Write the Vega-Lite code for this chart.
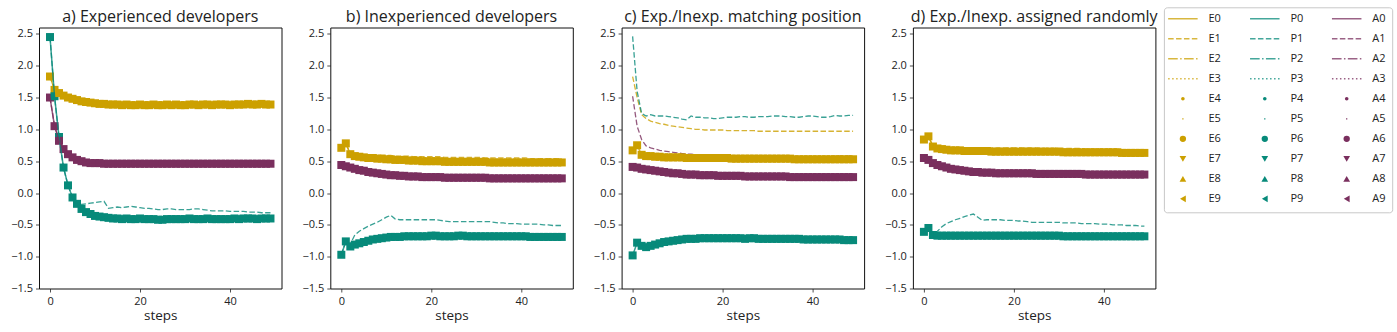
{
"$schema": "https://vega.github.io/schema/vega-lite/v6.json",
"autosize": {"type": "pad"},
"padding": {"left": 10, "top": 6.5, "right": 2, "bottom": 2},
"config": {
  "font": "Open Sans",
  "view": {"stroke": "#111", "strokeWidth": 1},
  "axis": {"grid": false, "domain": false, "labelFont": "Open Sans", "labelFontSize": 11, "labelColor": "#222", "tickColor": "#222", "tickSize": 3.5, "tickWidth": 0.8, "labelPadding": 3, "titleFont": "Open Sans", "titleFontSize": 13.5, "titleFontWeight": "normal", "titleColor": "#222", "titlePadding": 2, "labelFlush": false, "labelOverlap": false},
  "title": {"font": "Open Sans", "fontSize": 16, "fontWeight": "normal", "color": "#222", "offset": 2.6, "anchor": "middle"}
},
"datasets": {
"series": [
{"p":"a","s":0,"E":1.83,"Ed":1.83,"P":2.45,"Pd":2.45,"A":1.50,"Ad":1.50},
{"p":"a","s":1,"E":1.62,"Ed":1.63,"P":1.52,"Pd":1.52,"A":1.05,"Ad":1.06},
{"p":"a","s":2,"E":1.57,"Ed":1.58,"P":0.88,"Pd":0.88,"A":0.82,"Ad":0.83},
{"p":"a","s":3,"E":1.53,"Ed":1.54,"P":0.40,"Pd":0.40,"A":0.69,"Ad":0.70},
{"p":"a","s":4,"E":1.50,"Ed":1.51,"P":0.12,"Pd":0.12,"A":0.61,"Ad":0.62},
{"p":"a","s":5,"E":1.48,"Ed":1.49,"P":-0.07,"Pd":-0.07,"A":0.56,"Ad":0.57},
{"p":"a","s":6,"E":1.46,"Ed":1.47,"P":-0.17,"Pd":-0.17,"A":0.52,"Ad":0.53},
{"p":"a","s":7,"E":1.44,"Ed":1.46,"P":-0.25,"Pd":-0.18,"A":0.50,"Ad":0.51},
{"p":"a","s":8,"E":1.43,"Ed":1.45,"P":-0.30,"Pd":-0.17,"A":0.48,"Ad":0.49},
{"p":"a","s":9,"E":1.42,"Ed":1.44,"P":-0.33,"Pd":-0.16,"A":0.47,"Ad":0.48},
{"p":"a","s":10,"E":1.41,"Ed":1.43,"P":-0.36,"Pd":-0.15,"A":0.47,"Ad":0.48},
{"p":"a","s":11,"E":1.40,"Ed":1.42,"P":-0.37,"Pd":-0.14,"A":0.47,"Ad":0.47},
{"p":"a","s":12,"E":1.40,"Ed":1.41,"P":-0.38,"Pd":-0.13,"A":0.46,"Ad":0.47},
{"p":"a","s":13,"E":1.39,"Ed":1.41,"P":-0.39,"Pd":-0.24,"A":0.46,"Ad":0.47},
{"p":"a","s":14,"E":1.39,"Ed":1.40,"P":-0.40,"Pd":-0.23,"A":0.46,"Ad":0.47},
{"p":"a","s":15,"E":1.39,"Ed":1.40,"P":-0.40,"Pd":-0.22,"A":0.46,"Ad":0.47},
{"p":"a","s":16,"E":1.38,"Ed":1.40,"P":-0.41,"Pd":-0.23,"A":0.46,"Ad":0.47},
{"p":"a","s":17,"E":1.39,"Ed":1.40,"P":-0.40,"Pd":-0.22,"A":0.46,"Ad":0.47},
{"p":"a","s":18,"E":1.38,"Ed":1.39,"P":-0.41,"Pd":-0.21,"A":0.46,"Ad":0.47},
{"p":"a","s":19,"E":1.38,"Ed":1.39,"P":-0.41,"Pd":-0.22,"A":0.46,"Ad":0.47},
{"p":"a","s":20,"E":1.39,"Ed":1.40,"P":-0.40,"Pd":-0.23,"A":0.46,"Ad":0.47},
{"p":"a","s":21,"E":1.38,"Ed":1.39,"P":-0.41,"Pd":-0.24,"A":0.46,"Ad":0.47},
{"p":"a","s":22,"E":1.38,"Ed":1.39,"P":-0.41,"Pd":-0.24,"A":0.46,"Ad":0.47},
{"p":"a","s":23,"E":1.39,"Ed":1.40,"P":-0.41,"Pd":-0.25,"A":0.46,"Ad":0.47},
{"p":"a","s":24,"E":1.38,"Ed":1.39,"P":-0.42,"Pd":-0.26,"A":0.46,"Ad":0.47},
{"p":"a","s":25,"E":1.38,"Ed":1.39,"P":-0.42,"Pd":-0.26,"A":0.46,"Ad":0.47},
{"p":"a","s":26,"E":1.39,"Ed":1.40,"P":-0.41,"Pd":-0.25,"A":0.46,"Ad":0.47},
{"p":"a","s":27,"E":1.38,"Ed":1.39,"P":-0.41,"Pd":-0.25,"A":0.46,"Ad":0.47},
{"p":"a","s":28,"E":1.39,"Ed":1.39,"P":-0.41,"Pd":-0.26,"A":0.46,"Ad":0.47},
{"p":"a","s":29,"E":1.38,"Ed":1.39,"P":-0.41,"Pd":-0.26,"A":0.46,"Ad":0.47},
{"p":"a","s":30,"E":1.38,"Ed":1.39,"P":-0.41,"Pd":-0.26,"A":0.46,"Ad":0.47},
{"p":"a","s":31,"E":1.39,"Ed":1.40,"P":-0.40,"Pd":-0.26,"A":0.46,"Ad":0.47},
{"p":"a","s":32,"E":1.39,"Ed":1.39,"P":-0.41,"Pd":-0.25,"A":0.46,"Ad":0.47},
{"p":"a","s":33,"E":1.38,"Ed":1.39,"P":-0.41,"Pd":-0.25,"A":0.46,"Ad":0.47},
{"p":"a","s":34,"E":1.39,"Ed":1.40,"P":-0.41,"Pd":-0.26,"A":0.46,"Ad":0.47},
{"p":"a","s":35,"E":1.39,"Ed":1.40,"P":-0.40,"Pd":-0.27,"A":0.46,"Ad":0.47},
{"p":"a","s":36,"E":1.38,"Ed":1.39,"P":-0.41,"Pd":-0.28,"A":0.46,"Ad":0.47},
{"p":"a","s":37,"E":1.39,"Ed":1.40,"P":-0.41,"Pd":-0.28,"A":0.46,"Ad":0.47},
{"p":"a","s":38,"E":1.39,"Ed":1.40,"P":-0.41,"Pd":-0.28,"A":0.46,"Ad":0.47},
{"p":"a","s":39,"E":1.39,"Ed":1.40,"P":-0.41,"Pd":-0.28,"A":0.46,"Ad":0.47},
{"p":"a","s":40,"E":1.38,"Ed":1.39,"P":-0.41,"Pd":-0.29,"A":0.46,"Ad":0.47},
{"p":"a","s":41,"E":1.39,"Ed":1.40,"P":-0.40,"Pd":-0.29,"A":0.46,"Ad":0.47},
{"p":"a","s":42,"E":1.39,"Ed":1.40,"P":-0.41,"Pd":-0.29,"A":0.46,"Ad":0.47},
{"p":"a","s":43,"E":1.39,"Ed":1.40,"P":-0.40,"Pd":-0.29,"A":0.46,"Ad":0.47},
{"p":"a","s":44,"E":1.40,"Ed":1.40,"P":-0.40,"Pd":-0.30,"A":0.46,"Ad":0.47},
{"p":"a","s":45,"E":1.39,"Ed":1.40,"P":-0.40,"Pd":-0.30,"A":0.46,"Ad":0.47},
{"p":"a","s":46,"E":1.39,"Ed":1.40,"P":-0.41,"Pd":-0.30,"A":0.46,"Ad":0.47},
{"p":"a","s":47,"E":1.40,"Ed":1.40,"P":-0.40,"Pd":-0.31,"A":0.46,"Ad":0.47},
{"p":"a","s":48,"E":1.39,"Ed":1.40,"P":-0.40,"Pd":-0.31,"A":0.46,"Ad":0.47},
{"p":"a","s":49,"E":1.39,"Ed":1.40,"P":-0.40,"Pd":-0.31,"A":0.46,"Ad":0.47},
{"p":"b","s":0,"E":0.71,"Ed":0.71,"P":-0.97,"Pd":-0.97,"A":0.44,"Ad":0.44},
{"p":"b","s":1,"E":0.78,"Ed":0.78,"P":-0.76,"Pd":-0.76,"A":0.42,"Ad":0.42},
{"p":"b","s":2,"E":0.61,"Ed":0.62,"P":-0.84,"Pd":-0.80,"A":0.40,"Ad":0.41},
{"p":"b","s":3,"E":0.58,"Ed":0.59,"P":-0.81,"Pd":-0.66,"A":0.38,"Ad":0.39},
{"p":"b","s":4,"E":0.57,"Ed":0.58,"P":-0.79,"Pd":-0.60,"A":0.36,"Ad":0.38},
{"p":"b","s":5,"E":0.56,"Ed":0.58,"P":-0.77,"Pd":-0.56,"A":0.35,"Ad":0.36},
{"p":"b","s":6,"E":0.55,"Ed":0.58,"P":-0.75,"Pd":-0.52,"A":0.33,"Ad":0.35},
{"p":"b","s":7,"E":0.55,"Ed":0.59,"P":-0.73,"Pd":-0.49,"A":0.32,"Ad":0.34},
{"p":"b","s":8,"E":0.54,"Ed":0.59,"P":-0.72,"Pd":-0.46,"A":0.31,"Ad":0.33},
{"p":"b","s":9,"E":0.54,"Ed":0.59,"P":-0.71,"Pd":-0.42,"A":0.30,"Ad":0.32},
{"p":"b","s":10,"E":0.53,"Ed":0.59,"P":-0.70,"Pd":-0.38,"A":0.29,"Ad":0.32},
{"p":"b","s":11,"E":0.53,"Ed":0.59,"P":-0.69,"Pd":-0.35,"A":0.28,"Ad":0.32},
{"p":"b","s":12,"E":0.52,"Ed":0.58,"P":-0.69,"Pd":-0.41,"A":0.28,"Ad":0.31},
{"p":"b","s":13,"E":0.52,"Ed":0.58,"P":-0.69,"Pd":-0.42,"A":0.27,"Ad":0.30},
{"p":"b","s":14,"E":0.52,"Ed":0.58,"P":-0.68,"Pd":-0.42,"A":0.27,"Ad":0.30},
{"p":"b","s":15,"E":0.51,"Ed":0.58,"P":-0.68,"Pd":-0.42,"A":0.26,"Ad":0.29},
{"p":"b","s":16,"E":0.51,"Ed":0.57,"P":-0.68,"Pd":-0.42,"A":0.26,"Ad":0.29},
{"p":"b","s":17,"E":0.51,"Ed":0.57,"P":-0.68,"Pd":-0.42,"A":0.26,"Ad":0.29},
{"p":"b","s":18,"E":0.50,"Ed":0.57,"P":-0.68,"Pd":-0.42,"A":0.25,"Ad":0.28},
{"p":"b","s":19,"E":0.50,"Ed":0.57,"P":-0.68,"Pd":-0.42,"A":0.25,"Ad":0.28},
{"p":"b","s":20,"E":0.50,"Ed":0.57,"P":-0.67,"Pd":-0.42,"A":0.25,"Ad":0.28},
{"p":"b","s":21,"E":0.50,"Ed":0.57,"P":-0.67,"Pd":-0.42,"A":0.25,"Ad":0.28},
{"p":"b","s":22,"E":0.50,"Ed":0.57,"P":-0.68,"Pd":-0.43,"A":0.25,"Ad":0.28},
{"p":"b","s":23,"E":0.49,"Ed":0.56,"P":-0.68,"Pd":-0.44,"A":0.24,"Ad":0.28},
{"p":"b","s":24,"E":0.49,"Ed":0.56,"P":-0.68,"Pd":-0.45,"A":0.24,"Ad":0.27},
{"p":"b","s":25,"E":0.49,"Ed":0.56,"P":-0.68,"Pd":-0.45,"A":0.24,"Ad":0.27},
{"p":"b","s":26,"E":0.49,"Ed":0.56,"P":-0.67,"Pd":-0.45,"A":0.24,"Ad":0.27},
{"p":"b","s":27,"E":0.49,"Ed":0.56,"P":-0.67,"Pd":-0.45,"A":0.24,"Ad":0.27},
{"p":"b","s":28,"E":0.49,"Ed":0.56,"P":-0.68,"Pd":-0.45,"A":0.24,"Ad":0.27},
{"p":"b","s":29,"E":0.49,"Ed":0.56,"P":-0.68,"Pd":-0.45,"A":0.24,"Ad":0.27},
{"p":"b","s":30,"E":0.49,"Ed":0.56,"P":-0.68,"Pd":-0.45,"A":0.24,"Ad":0.27},
{"p":"b","s":31,"E":0.49,"Ed":0.56,"P":-0.68,"Pd":-0.45,"A":0.24,"Ad":0.27},
{"p":"b","s":32,"E":0.49,"Ed":0.55,"P":-0.68,"Pd":-0.45,"A":0.24,"Ad":0.27},
{"p":"b","s":33,"E":0.48,"Ed":0.55,"P":-0.68,"Pd":-0.45,"A":0.23,"Ad":0.27},
{"p":"b","s":34,"E":0.48,"Ed":0.55,"P":-0.68,"Pd":-0.46,"A":0.23,"Ad":0.27},
{"p":"b","s":35,"E":0.48,"Ed":0.55,"P":-0.68,"Pd":-0.47,"A":0.23,"Ad":0.26},
{"p":"b","s":36,"E":0.48,"Ed":0.55,"P":-0.68,"Pd":-0.47,"A":0.23,"Ad":0.26},
{"p":"b","s":37,"E":0.48,"Ed":0.55,"P":-0.68,"Pd":-0.48,"A":0.23,"Ad":0.26},
{"p":"b","s":38,"E":0.48,"Ed":0.55,"P":-0.68,"Pd":-0.48,"A":0.23,"Ad":0.26},
{"p":"b","s":39,"E":0.48,"Ed":0.55,"P":-0.68,"Pd":-0.48,"A":0.23,"Ad":0.26},
{"p":"b","s":40,"E":0.48,"Ed":0.55,"P":-0.68,"Pd":-0.49,"A":0.23,"Ad":0.26},
{"p":"b","s":41,"E":0.48,"Ed":0.55,"P":-0.68,"Pd":-0.49,"A":0.23,"Ad":0.26},
{"p":"b","s":42,"E":0.48,"Ed":0.54,"P":-0.69,"Pd":-0.49,"A":0.23,"Ad":0.26},
{"p":"b","s":43,"E":0.48,"Ed":0.54,"P":-0.69,"Pd":-0.49,"A":0.23,"Ad":0.26},
{"p":"b","s":44,"E":0.48,"Ed":0.54,"P":-0.69,"Pd":-0.49,"A":0.23,"Ad":0.26},
{"p":"b","s":45,"E":0.48,"Ed":0.54,"P":-0.69,"Pd":-0.50,"A":0.23,"Ad":0.26},
{"p":"b","s":46,"E":0.48,"Ed":0.54,"P":-0.69,"Pd":-0.50,"A":0.23,"Ad":0.26},
{"p":"b","s":47,"E":0.48,"Ed":0.54,"P":-0.69,"Pd":-0.51,"A":0.23,"Ad":0.26},
{"p":"b","s":48,"E":0.48,"Ed":0.54,"P":-0.69,"Pd":-0.51,"A":0.23,"Ad":0.26},
{"p":"b","s":49,"E":0.48,"Ed":0.54,"P":-0.69,"Pd":-0.51,"A":0.23,"Ad":0.26},
{"p":"c","s":0,"E":0.67,"Ed":1.83,"P":-0.98,"Pd":2.46,"A":0.41,"Ad":1.52},
{"p":"c","s":1,"E":0.75,"Ed":1.50,"P":-0.78,"Pd":1.60,"A":0.40,"Ad":1.05},
{"p":"c","s":2,"E":0.60,"Ed":1.23,"P":-0.83,"Pd":1.25,"A":0.38,"Ad":0.84},
{"p":"c","s":3,"E":0.58,"Ed":1.17,"P":-0.85,"Pd":1.21,"A":0.37,"Ad":0.74},
{"p":"c","s":4,"E":0.58,"Ed":1.13,"P":-0.83,"Pd":1.23,"A":0.36,"Ad":0.71},
{"p":"c","s":5,"E":0.57,"Ed":1.11,"P":-0.81,"Pd":1.21,"A":0.35,"Ad":0.69},
{"p":"c","s":6,"E":0.57,"Ed":1.09,"P":-0.79,"Pd":1.21,"A":0.34,"Ad":0.67},
{"p":"c","s":7,"E":0.56,"Ed":1.08,"P":-0.77,"Pd":1.21,"A":0.33,"Ad":0.66},
{"p":"c","s":8,"E":0.56,"Ed":1.06,"P":-0.76,"Pd":1.20,"A":0.32,"Ad":0.65},
{"p":"c","s":9,"E":0.56,"Ed":1.05,"P":-0.75,"Pd":1.19,"A":0.31,"Ad":0.64},
{"p":"c","s":10,"E":0.56,"Ed":1.04,"P":-0.74,"Pd":1.18,"A":0.31,"Ad":0.63},
{"p":"c","s":11,"E":0.56,"Ed":1.03,"P":-0.73,"Pd":1.16,"A":0.30,"Ad":0.62},
{"p":"c","s":12,"E":0.55,"Ed":1.02,"P":-0.72,"Pd":1.15,"A":0.29,"Ad":0.61},
{"p":"c","s":13,"E":0.55,"Ed":1.01,"P":-0.72,"Pd":1.21,"A":0.29,"Ad":0.61},
{"p":"c","s":14,"E":0.55,"Ed":1.00,"P":-0.72,"Pd":1.19,"A":0.29,"Ad":0.60},
{"p":"c","s":15,"E":0.55,"Ed":1.00,"P":-0.71,"Pd":1.19,"A":0.28,"Ad":0.60},
{"p":"c","s":16,"E":0.55,"Ed":0.99,"P":-0.71,"Pd":1.18,"A":0.28,"Ad":0.59},
{"p":"c","s":17,"E":0.55,"Ed":0.99,"P":-0.71,"Pd":1.18,"A":0.28,"Ad":0.59},
{"p":"c","s":18,"E":0.55,"Ed":0.99,"P":-0.71,"Pd":1.17,"A":0.28,"Ad":0.59},
{"p":"c","s":19,"E":0.55,"Ed":0.99,"P":-0.71,"Pd":1.17,"A":0.27,"Ad":0.58},
{"p":"c","s":20,"E":0.55,"Ed":0.99,"P":-0.71,"Pd":1.18,"A":0.27,"Ad":0.58},
{"p":"c","s":21,"E":0.55,"Ed":0.98,"P":-0.71,"Pd":1.19,"A":0.27,"Ad":0.58},
{"p":"c","s":22,"E":0.54,"Ed":0.98,"P":-0.71,"Pd":1.19,"A":0.27,"Ad":0.58},
{"p":"c","s":23,"E":0.54,"Ed":0.98,"P":-0.71,"Pd":1.19,"A":0.27,"Ad":0.58},
{"p":"c","s":24,"E":0.54,"Ed":0.98,"P":-0.71,"Pd":1.20,"A":0.27,"Ad":0.58},
{"p":"c","s":25,"E":0.54,"Ed":0.98,"P":-0.72,"Pd":1.20,"A":0.26,"Ad":0.58},
{"p":"c","s":26,"E":0.54,"Ed":0.98,"P":-0.71,"Pd":1.19,"A":0.26,"Ad":0.58},
{"p":"c","s":27,"E":0.54,"Ed":0.98,"P":-0.71,"Pd":1.19,"A":0.26,"Ad":0.58},
{"p":"c","s":28,"E":0.54,"Ed":0.97,"P":-0.72,"Pd":1.20,"A":0.26,"Ad":0.58},
{"p":"c","s":29,"E":0.54,"Ed":0.97,"P":-0.72,"Pd":1.20,"A":0.26,"Ad":0.58},
{"p":"c","s":30,"E":0.54,"Ed":0.97,"P":-0.72,"Pd":1.20,"A":0.26,"Ad":0.57},
{"p":"c","s":31,"E":0.54,"Ed":0.97,"P":-0.72,"Pd":1.21,"A":0.26,"Ad":0.57},
{"p":"c","s":32,"E":0.54,"Ed":0.97,"P":-0.72,"Pd":1.21,"A":0.26,"Ad":0.57},
{"p":"c","s":33,"E":0.54,"Ed":0.97,"P":-0.72,"Pd":1.21,"A":0.26,"Ad":0.57},
{"p":"c","s":34,"E":0.54,"Ed":0.97,"P":-0.72,"Pd":1.20,"A":0.26,"Ad":0.57},
{"p":"c","s":35,"E":0.54,"Ed":0.97,"P":-0.72,"Pd":1.20,"A":0.25,"Ad":0.57},
{"p":"c","s":36,"E":0.53,"Ed":0.97,"P":-0.72,"Pd":1.19,"A":0.25,"Ad":0.57},
{"p":"c","s":37,"E":0.53,"Ed":0.97,"P":-0.72,"Pd":1.19,"A":0.25,"Ad":0.57},
{"p":"c","s":38,"E":0.53,"Ed":0.97,"P":-0.73,"Pd":1.20,"A":0.25,"Ad":0.57},
{"p":"c","s":39,"E":0.53,"Ed":0.97,"P":-0.73,"Pd":1.21,"A":0.25,"Ad":0.57},
{"p":"c","s":40,"E":0.53,"Ed":0.97,"P":-0.73,"Pd":1.21,"A":0.25,"Ad":0.57},
{"p":"c","s":41,"E":0.53,"Ed":0.97,"P":-0.73,"Pd":1.20,"A":0.25,"Ad":0.57},
{"p":"c","s":42,"E":0.53,"Ed":0.97,"P":-0.73,"Pd":1.19,"A":0.25,"Ad":0.57},
{"p":"c","s":43,"E":0.53,"Ed":0.97,"P":-0.73,"Pd":1.19,"A":0.25,"Ad":0.57},
{"p":"c","s":44,"E":0.53,"Ed":0.97,"P":-0.73,"Pd":1.20,"A":0.25,"Ad":0.57},
{"p":"c","s":45,"E":0.53,"Ed":0.97,"P":-0.73,"Pd":1.22,"A":0.25,"Ad":0.58},
{"p":"c","s":46,"E":0.53,"Ed":0.97,"P":-0.73,"Pd":1.21,"A":0.25,"Ad":0.58},
{"p":"c","s":47,"E":0.53,"Ed":0.97,"P":-0.74,"Pd":1.21,"A":0.25,"Ad":0.58},
{"p":"c","s":48,"E":0.53,"Ed":0.97,"P":-0.74,"Pd":1.22,"A":0.25,"Ad":0.58},
{"p":"c","s":49,"E":0.53,"Ed":0.97,"P":-0.74,"Pd":1.22,"A":0.25,"Ad":0.58},
{"p":"d","s":0,"E":0.84,"Ed":0.84,"P":-0.61,"Pd":-0.61,"A":0.55,"Ad":0.55},
{"p":"d","s":1,"E":0.89,"Ed":0.89,"P":-0.55,"Pd":-0.55,"A":0.52,"Ad":0.52},
{"p":"d","s":2,"E":0.73,"Ed":0.74,"P":-0.66,"Pd":-0.64,"A":0.47,"Ad":0.48},
{"p":"d","s":3,"E":0.70,"Ed":0.71,"P":-0.67,"Pd":-0.60,"A":0.44,"Ad":0.45},
{"p":"d","s":4,"E":0.69,"Ed":0.70,"P":-0.67,"Pd":-0.53,"A":0.42,"Ad":0.43},
{"p":"d","s":5,"E":0.68,"Ed":0.69,"P":-0.67,"Pd":-0.48,"A":0.40,"Ad":0.41},
{"p":"d","s":6,"E":0.67,"Ed":0.69,"P":-0.67,"Pd":-0.45,"A":0.38,"Ad":0.39},
{"p":"d","s":7,"E":0.67,"Ed":0.69,"P":-0.67,"Pd":-0.42,"A":0.37,"Ad":0.38},
{"p":"d","s":8,"E":0.67,"Ed":0.69,"P":-0.67,"Pd":-0.40,"A":0.36,"Ad":0.37},
{"p":"d","s":9,"E":0.66,"Ed":0.69,"P":-0.67,"Pd":-0.37,"A":0.35,"Ad":0.36},
{"p":"d","s":10,"E":0.66,"Ed":0.70,"P":-0.67,"Pd":-0.35,"A":0.34,"Ad":0.35},
{"p":"d","s":11,"E":0.66,"Ed":0.70,"P":-0.67,"Pd":-0.33,"A":0.33,"Ad":0.34},
{"p":"d","s":12,"E":0.66,"Ed":0.70,"P":-0.67,"Pd":-0.38,"A":0.33,"Ad":0.34},
{"p":"d","s":13,"E":0.66,"Ed":0.70,"P":-0.67,"Pd":-0.43,"A":0.32,"Ad":0.33},
{"p":"d","s":14,"E":0.66,"Ed":0.71,"P":-0.67,"Pd":-0.42,"A":0.32,"Ad":0.33},
{"p":"d","s":15,"E":0.65,"Ed":0.71,"P":-0.67,"Pd":-0.42,"A":0.32,"Ad":0.33},
{"p":"d","s":16,"E":0.65,"Ed":0.71,"P":-0.67,"Pd":-0.42,"A":0.31,"Ad":0.32},
{"p":"d","s":17,"E":0.65,"Ed":0.71,"P":-0.67,"Pd":-0.42,"A":0.31,"Ad":0.32},
{"p":"d","s":18,"E":0.65,"Ed":0.71,"P":-0.67,"Pd":-0.43,"A":0.31,"Ad":0.32},
{"p":"d","s":19,"E":0.65,"Ed":0.71,"P":-0.67,"Pd":-0.43,"A":0.31,"Ad":0.32},
{"p":"d","s":20,"E":0.65,"Ed":0.71,"P":-0.67,"Pd":-0.43,"A":0.31,"Ad":0.32},
{"p":"d","s":21,"E":0.65,"Ed":0.71,"P":-0.67,"Pd":-0.44,"A":0.31,"Ad":0.32},
{"p":"d","s":22,"E":0.65,"Ed":0.71,"P":-0.67,"Pd":-0.44,"A":0.31,"Ad":0.32},
{"p":"d","s":23,"E":0.65,"Ed":0.71,"P":-0.67,"Pd":-0.45,"A":0.31,"Ad":0.32},
{"p":"d","s":24,"E":0.65,"Ed":0.71,"P":-0.67,"Pd":-0.46,"A":0.31,"Ad":0.32},
{"p":"d","s":25,"E":0.65,"Ed":0.71,"P":-0.67,"Pd":-0.46,"A":0.30,"Ad":0.31},
{"p":"d","s":26,"E":0.65,"Ed":0.70,"P":-0.67,"Pd":-0.46,"A":0.30,"Ad":0.31},
{"p":"d","s":27,"E":0.65,"Ed":0.70,"P":-0.67,"Pd":-0.46,"A":0.30,"Ad":0.31},
{"p":"d","s":28,"E":0.65,"Ed":0.70,"P":-0.67,"Pd":-0.46,"A":0.30,"Ad":0.31},
{"p":"d","s":29,"E":0.65,"Ed":0.70,"P":-0.67,"Pd":-0.46,"A":0.30,"Ad":0.31},
{"p":"d","s":30,"E":0.65,"Ed":0.70,"P":-0.67,"Pd":-0.46,"A":0.30,"Ad":0.31},
{"p":"d","s":31,"E":0.64,"Ed":0.70,"P":-0.68,"Pd":-0.47,"A":0.30,"Ad":0.31},
{"p":"d","s":32,"E":0.64,"Ed":0.70,"P":-0.68,"Pd":-0.47,"A":0.30,"Ad":0.31},
{"p":"d","s":33,"E":0.64,"Ed":0.70,"P":-0.68,"Pd":-0.47,"A":0.30,"Ad":0.31},
{"p":"d","s":34,"E":0.64,"Ed":0.70,"P":-0.68,"Pd":-0.47,"A":0.30,"Ad":0.31},
{"p":"d","s":35,"E":0.64,"Ed":0.70,"P":-0.68,"Pd":-0.48,"A":0.30,"Ad":0.31},
{"p":"d","s":36,"E":0.64,"Ed":0.69,"P":-0.68,"Pd":-0.48,"A":0.29,"Ad":0.30},
{"p":"d","s":37,"E":0.64,"Ed":0.69,"P":-0.68,"Pd":-0.48,"A":0.29,"Ad":0.30},
{"p":"d","s":38,"E":0.64,"Ed":0.69,"P":-0.68,"Pd":-0.48,"A":0.29,"Ad":0.30},
{"p":"d","s":39,"E":0.64,"Ed":0.69,"P":-0.68,"Pd":-0.49,"A":0.29,"Ad":0.30},
{"p":"d","s":40,"E":0.64,"Ed":0.69,"P":-0.68,"Pd":-0.49,"A":0.29,"Ad":0.30},
{"p":"d","s":41,"E":0.64,"Ed":0.69,"P":-0.68,"Pd":-0.49,"A":0.29,"Ad":0.30},
{"p":"d","s":42,"E":0.64,"Ed":0.69,"P":-0.68,"Pd":-0.50,"A":0.29,"Ad":0.30},
{"p":"d","s":43,"E":0.64,"Ed":0.69,"P":-0.68,"Pd":-0.50,"A":0.29,"Ad":0.30},
{"p":"d","s":44,"E":0.63,"Ed":0.68,"P":-0.68,"Pd":-0.50,"A":0.29,"Ad":0.30},
{"p":"d","s":45,"E":0.63,"Ed":0.68,"P":-0.68,"Pd":-0.51,"A":0.29,"Ad":0.30},
{"p":"d","s":46,"E":0.63,"Ed":0.68,"P":-0.68,"Pd":-0.51,"A":0.29,"Ad":0.30},
{"p":"d","s":47,"E":0.63,"Ed":0.68,"P":-0.68,"Pd":-0.51,"A":0.29,"Ad":0.30},
{"p":"d","s":48,"E":0.63,"Ed":0.68,"P":-0.68,"Pd":-0.52,"A":0.29,"Ad":0.30},
{"p":"d","s":49,"E":0.63,"Ed":0.68,"P":-0.68,"Pd":-0.52,"A":0.29,"Ad":0.30}
],
"legend": [
{"g":"E","i":0,"lab":"E0"},{"g":"E","i":1,"lab":"E1"},{"g":"E","i":2,"lab":"E2"},{"g":"E","i":3,"lab":"E3"},{"g":"E","i":4,"lab":"E4"},{"g":"E","i":5,"lab":"E5"},{"g":"E","i":6,"lab":"E6"},{"g":"E","i":7,"lab":"E7"},{"g":"E","i":8,"lab":"E8"},{"g":"E","i":9,"lab":"E9"},
{"g":"P","i":0,"lab":"P0"},{"g":"P","i":1,"lab":"P1"},{"g":"P","i":2,"lab":"P2"},{"g":"P","i":3,"lab":"P3"},{"g":"P","i":4,"lab":"P4"},{"g":"P","i":5,"lab":"P5"},{"g":"P","i":6,"lab":"P6"},{"g":"P","i":7,"lab":"P7"},{"g":"P","i":8,"lab":"P8"},{"g":"P","i":9,"lab":"P9"},
{"g":"A","i":0,"lab":"A0"},{"g":"A","i":1,"lab":"A1"},{"g":"A","i":2,"lab":"A2"},{"g":"A","i":3,"lab":"A3"},{"g":"A","i":4,"lab":"A4"},{"g":"A","i":5,"lab":"A5"},{"g":"A","i":6,"lab":"A6"},{"g":"A","i":7,"lab":"A7"},{"g":"A","i":8,"lab":"A8"},{"g":"A","i":9,"lab":"A9"}
]
},
"spacing": 48.3,
"bounds": "flush",
"hconcat": [
{
"title": "a) Experienced developers",
"width": 242.5, "height": 261,
"data": {"name": "series"},
"transform": [{"filter": "datum.p === 'a'"}],
"encoding": {
  "x": {"field": "s", "type": "quantitative", "scale": {"domain": [-2.45, 51.45], "nice": false, "zero": false}, "axis": {"values": [0, 20, 40], "format": "d", "title": "steps"}},
  "y": {"field": "v", "type": "quantitative", "scale": {"domain": [-1.5, 2.6], "nice": false, "zero": false}, "axis": {"values": [-1.5, -1, -0.5, 0, 0.5, 1, 1.5, 2, 2.5], "format": ".1f", "title": null}},
  "color": {"field": "k", "type": "nominal", "scale": {"domain": ["E", "P", "A", "Ed", "Pd", "Ad"], "range": ["#CCA000", "#078A7A", "#7A2F5E", "#CCA000", "#078A7A", "#7A2F5E"]}, "legend": null}
},
"layer": [
  {"transform": [{"fold": ["Ed", "Pd", "Ad"], "as": ["k", "v"]}], "mark": {"type": "line", "strokeWidth": 1.3, "strokeDash": [5.5, 2.4], "opacity": 0.8}},
  {"transform": [{"fold": ["E", "P", "A"], "as": ["k", "v"]}], "mark": {"type": "point", "shape": "square", "filled": true, "size": 64, "opacity": 1, "strokeWidth": 0}},
  {"transform": [{"fold": ["E", "P", "A"], "as": ["k", "v"]}], "mark": {"type": "line", "strokeWidth": 1.5, "opacity": 0.8}}
]
},
{
"title": "b) Inexperienced developers",
"width": 242.5, "height": 261,
"data": {"name": "series"},
"transform": [{"filter": "datum.p === 'b'"}],
"encoding": {
  "x": {"field": "s", "type": "quantitative", "scale": {"domain": [-2.45, 51.45], "nice": false, "zero": false}, "axis": {"values": [0, 20, 40], "format": "d", "title": "steps"}},
  "y": {"field": "v", "type": "quantitative", "scale": {"domain": [-1.5, 2.6], "nice": false, "zero": false}, "axis": {"values": [-1.5, -1, -0.5, 0, 0.5, 1, 1.5, 2, 2.5], "format": ".1f", "title": null}},
  "color": {"field": "k", "type": "nominal", "scale": {"domain": ["E", "P", "A", "Ed", "Pd", "Ad"], "range": ["#CCA000", "#078A7A", "#7A2F5E", "#CCA000", "#078A7A", "#7A2F5E"]}, "legend": null}
},
"layer": [
  {"transform": [{"fold": ["Ed", "Pd", "Ad"], "as": ["k", "v"]}], "mark": {"type": "line", "strokeWidth": 1.3, "strokeDash": [5.5, 2.4], "opacity": 0.8}},
  {"transform": [{"fold": ["E", "P", "A"], "as": ["k", "v"]}], "mark": {"type": "point", "shape": "square", "filled": true, "size": 64, "opacity": 1, "strokeWidth": 0}},
  {"transform": [{"fold": ["E", "P", "A"], "as": ["k", "v"]}], "mark": {"type": "line", "strokeWidth": 1.5, "opacity": 0.8}}
]
},
{
"title": "c) Exp./Inexp. matching position",
"width": 242.5, "height": 261,
"data": {"name": "series"},
"transform": [{"filter": "datum.p === 'c'"}],
"encoding": {
  "x": {"field": "s", "type": "quantitative", "scale": {"domain": [-2.45, 51.45], "nice": false, "zero": false}, "axis": {"values": [0, 20, 40], "format": "d", "title": "steps"}},
  "y": {"field": "v", "type": "quantitative", "scale": {"domain": [-1.5, 2.6], "nice": false, "zero": false}, "axis": {"values": [-1.5, -1, -0.5, 0, 0.5, 1, 1.5, 2, 2.5], "format": ".1f", "title": null}},
  "color": {"field": "k", "type": "nominal", "scale": {"domain": ["E", "P", "A", "Ed", "Pd", "Ad"], "range": ["#CCA000", "#078A7A", "#7A2F5E", "#CCA000", "#078A7A", "#7A2F5E"]}, "legend": null}
},
"layer": [
  {"transform": [{"fold": ["Ed", "Pd", "Ad"], "as": ["k", "v"]}], "mark": {"type": "line", "strokeWidth": 1.3, "strokeDash": [5.5, 2.4], "opacity": 0.8}},
  {"transform": [{"fold": ["E", "P", "A"], "as": ["k", "v"]}], "mark": {"type": "point", "shape": "square", "filled": true, "size": 64, "opacity": 1, "strokeWidth": 0}},
  {"transform": [{"fold": ["E", "P", "A"], "as": ["k", "v"]}], "mark": {"type": "line", "strokeWidth": 1.5, "opacity": 0.8}}
]
},
{
"title": "d) Exp./Inexp. assigned randomly",
"width": 242.5, "height": 261,
"data": {"name": "series"},
"transform": [{"filter": "datum.p === 'd'"}],
"encoding": {
  "x": {"field": "s", "type": "quantitative", "scale": {"domain": [-2.45, 51.45], "nice": false, "zero": false}, "axis": {"values": [0, 20, 40], "format": "d", "title": "steps"}},
  "y": {"field": "v", "type": "quantitative", "scale": {"domain": [-1.5, 2.6], "nice": false, "zero": false}, "axis": {"values": [-1.5, -1, -0.5, 0, 0.5, 1, 1.5, 2, 2.5], "format": ".1f", "title": null}},
  "color": {"field": "k", "type": "nominal", "scale": {"domain": ["E", "P", "A", "Ed", "Pd", "Ad"], "range": ["#CCA000", "#078A7A", "#7A2F5E", "#CCA000", "#078A7A", "#7A2F5E"]}, "legend": null}
},
"layer": [
  {"transform": [{"fold": ["Ed", "Pd", "Ad"], "as": ["k", "v"]}], "mark": {"type": "line", "strokeWidth": 1.3, "strokeDash": [5.5, 2.4], "opacity": 0.8}},
  {"transform": [{"fold": ["E", "P", "A"], "as": ["k", "v"]}], "mark": {"type": "point", "shape": "square", "filled": true, "size": 64, "opacity": 1, "strokeWidth": 0}},
  {"transform": [{"fold": ["E", "P", "A"], "as": ["k", "v"]}], "mark": {"type": "line", "strokeWidth": 1.5, "opacity": 0.8}}
]
},
{
"width": 188.5, "height": 261,
"view": {"stroke": null},
"data": {"name": "legend"},
"resolve": {"scale": {"x": "independent"}},
"encoding": {
  "y": {"field": "i", "type": "quantitative", "scale": {"domain": [0, 9], "range": [-8.7, 171.3], "nice": false, "zero": false}, "axis": null}
},
"layer": [
  {"transform": [{"aggregate": [{"op": "min", "field": "i", "as": "lo"}, {"op": "max", "field": "i", "as": "hi"}]}],
   "mark": {"type": "rect", "fill": "#ffffff", "fillOpacity": 0.8, "stroke": "#c8c8c8", "strokeWidth": 1, "strokeOpacity": 1, "cornerRadius": 3, "yOffset": -11, "y2Offset": 14},
   "encoding": {
     "x": {"field": "lo", "type": "quantitative", "scale": {"domain": [0, 9], "range": [-39.8, 188.5], "nice": false, "zero": false}, "axis": null},
     "x2": {"field": "hi"},
     "y": {"field": "lo", "type": "quantitative"},
     "y2": {"field": "hi"}}},
  {"transform": [{"filter": "datum.i <= 3"}], "mark": {"type": "point", "shape": "stroke", "size": 870, "strokeWidth": 1.5, "opacity": 0.75, "filled": false},
   "encoding": {
     "x": {"field": "g", "type": "nominal", "scale": {"type": "point", "domain": ["E", "P", "A"], "range": [-21.3, 142.5], "padding": 0}, "axis": null},
     "color": {"field": "g", "type": "nominal", "scale": {"domain": ["E", "P", "A"], "range": ["#CCA000", "#078A7A", "#7A2F5E"]}, "legend": null},
     "strokeDash": {"field": "i", "type": "ordinal", "scale": {"domain": [0, 1, 2, 3], "range": [[1, 0], [5.5, 2.4], [9.6, 2.4, 1.5, 2.4], [1.5, 2.5]]}, "legend": null}}},
  {"transform": [{"filter": "datum.i >= 4"}], "mark": {"type": "point", "filled": true, "opacity": 1, "strokeWidth": 0},
   "encoding": {
     "x": {"field": "g", "type": "nominal", "scale": {"type": "point", "domain": ["E", "P", "A"], "range": [-21.3, 142.5], "padding": 0}, "axis": null},
     "color": {"field": "g", "type": "nominal", "scale": {"domain": ["E", "P", "A"], "range": ["#CCA000", "#078A7A", "#7A2F5E"]}, "legend": null},
     "shape": {"field": "i", "type": "ordinal", "scale": {"domain": [4, 5, 6, 7, 8, 9], "range": ["circle", "square", "circle", "triangle-down", "triangle-up", "triangle-left"]}, "legend": null},
     "size": {"field": "i", "type": "ordinal", "scale": {"type": "ordinal", "domain": [4, 5, 6, 7, 8, 9], "range": [13, 1.5, 40, 45, 45, 45]}, "legend": null}}},
  {"mark": {"type": "text", "align": "left", "baseline": "middle", "dx": 25.6, "fontSize": 11, "font": "Open Sans", "color": "#222"},
   "encoding": {
     "x": {"field": "g", "type": "nominal", "scale": {"type": "point", "domain": ["E", "P", "A"], "range": [-21.3, 142.5], "padding": 0}, "axis": null},
     "text": {"field": "lab"}}}
]
}
]
}
